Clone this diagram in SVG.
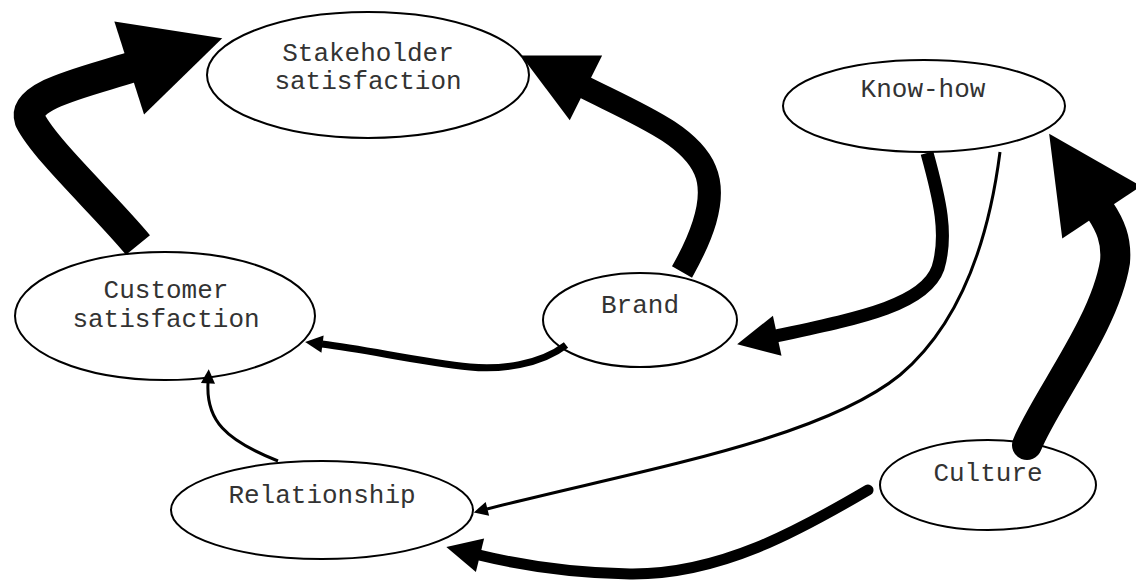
<svg xmlns="http://www.w3.org/2000/svg" width="1136" height="580" viewBox="0 0 1136 580">
  <style>
    .node ellipse { fill: #fff; stroke: #000; stroke-width: 2; }
    .node text { font-family: "Liberation Mono", "Courier New", monospace; font-size: 26px; text-anchor: middle; fill: #333; }
    .edge { fill: none; stroke: #000; }
  </style>
  <defs>
    <!-- arrowheads sized relative to the stroke width of each connector -->
    <marker id="head" viewBox="0 0 10 10" refX="0.3" refY="5" markerUnits="strokeWidth" markerWidth="3.15" markerHeight="3.15" orient="auto" overflow="visible">
      <path d="M0,0 L10,5 L0,10 z" fill="#000"/>
    </marker>
    <marker id="head-s" viewBox="0 0 10 10" refX="0.3" refY="5" markerUnits="strokeWidth" markerWidth="2.5" markerHeight="2.5" orient="auto" overflow="visible">
      <path d="M0,0 L10,5 L0,10 z" fill="#000"/>
    </marker>
    <marker id="head-t" viewBox="0 0 10 10" refX="0.3" refY="5" markerUnits="strokeWidth" markerWidth="4.7" markerHeight="4.7" orient="auto" overflow="visible">
      <path d="M0,0 L10,5 L0,10 z" fill="#000"/>
    </marker>
  </defs>

  <rect width="1136" height="580" fill="#fff"/>

  <g id="stakeholder" class="node">
    <ellipse cx="368" cy="75" rx="161" ry="63"/>
    <text x="368" y="61">Stakeholder</text>
    <text x="368" y="89">satisfaction</text>
  </g>
  <g id="knowhow" class="node">
    <ellipse cx="924" cy="106" rx="141" ry="46"/>
    <text x="923" y="97">Know-how</text>
  </g>
  <g id="customer" class="node">
    <ellipse cx="165" cy="316" rx="150" ry="64"/>
    <text x="166" y="298">Customer</text>
    <text x="166" y="327">satisfaction</text>
  </g>
  <g id="brand" class="node">
    <ellipse cx="640" cy="320" rx="97" ry="47"/>
    <text x="640" y="313">Brand</text>
  </g>
  <g id="relationship" class="node">
    <ellipse cx="322" cy="510" rx="151" ry="49"/>
    <text x="322" y="503">Relationship</text>
  </g>
  <g id="culture" class="node">
    <ellipse cx="988" cy="485" rx="108" ry="45"/>
    <text x="988" y="481">Culture</text>
  </g>

  <g id="connectors">
    <!-- Customer satisfaction -> Stakeholder satisfaction -->
    <path class="edge" stroke-width="31" marker-end="url(#head)" d="M138,245 C105,205 45,150 30,120 C22,95 85,82 132,67"/>
    <!-- Brand -> Stakeholder satisfaction -->
    <path class="edge" stroke-width="23" marker-end="url(#head)" d="M682,272 C700,240 718,200 705,170 C690,135 640,115 584,87"/>
    <!-- Culture -> Know-how -->
    <path class="edge" stroke-width="30" stroke-linecap="round" marker-end="url(#head)" d="M1027,445 C1045,400 1105,325 1115,262 C1117,240 1110,225 1100,210"/>
    <!-- Know-how -> Brand -->
    <path class="edge" stroke-width="13" marker-end="url(#head)" d="M927,153 C940,200 948,235 938,268 C925,305 860,318 776,336"/>
    <!-- Know-how -> Relationship -->
    <path class="edge" stroke-width="3" marker-end="url(#head-t)" d="M1000,152 C990,230 965,320 900,375 C820,440 640,470 487,509"/>
    <!-- Brand -> Customer satisfaction -->
    <path class="edge" stroke-width="7" marker-end="url(#head-s)" d="M566,345 C540,365 500,370 470,367 C420,362 370,350 322,344"/>
    <!-- Relationship -> Customer satisfaction -->
    <path class="edge" stroke-width="3" marker-end="url(#head-t)" d="M278,461 C225,440 206,420 208,383"/>
    <!-- Culture -> Relationship -->
    <path class="edge" stroke-width="11" stroke-linecap="round" marker-end="url(#head)" d="M868,490 C800,530 720,575 630,574 C570,573 520,565 479,555"/>
  </g>
</svg>
